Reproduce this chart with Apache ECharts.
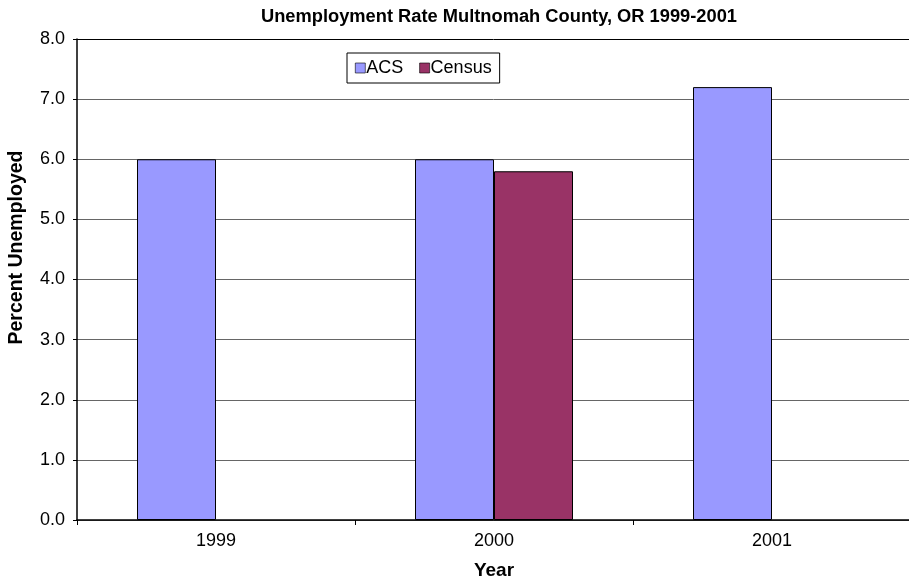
<!DOCTYPE html>
<html><head><meta charset="utf-8">
<script src="https://cdn.jsdelivr.net/npm/echarts@6/dist/echarts.min.js"></script>
<style>html,body{margin:0;padding:0;background:#fff}#c{width:909px;height:578px}</style>
</head><body><div id="c"></div>
<script>
const categories = ['1999', '2000', '2001'];
const acs = [6.0, 6.0, 7.2];
const census = [null, 5.8, null];
const yTicks = ['0.0','1.0','2.0','3.0','4.0','5.0','6.0','7.0','8.0'];

const chart = echarts.init(document.getElementById('c'));
const F = 'Liberation Sans, Arial, sans-serif';
chart.setOption({
  animation: false,
  textStyle: { fontFamily: F },
  title: { text: 'Unemployment Rate Multnomah County, OR 1999-2001', left: 494, top: 3, textAlign: 'center',
    textStyle: { fontFamily: F, fontSize: 18.3, fontWeight: 'bold', color: '#000' } },
  legend: { left: 347, top: 53, width: 155, height: 31, padding: [6, 8], itemGap: 16,
    borderColor: '#000', borderWidth: 1, itemWidth: 10, itemHeight: 10, icon: 'rect',
    textStyle: { fontFamily: F, fontSize: 18, color: '#000', padding: [0,0,0,-4] },
    itemStyle: { borderColor: '#000', borderWidth: 0.6 },
    data: ['ACS', 'Census'] },
  grid: { left: 77, right: -2, top: 39, bottom: 58, containLabel: false, outerBoundsMode: 'none' },
  xAxis: { type: 'category', data: categories, name: 'Year', nameLocation: 'middle', nameGap: 41,
    nameTextStyle: { fontFamily: F, fontSize: 19, fontWeight: 'bold', color: '#000' },
    axisLine: { lineStyle: { color: '#000', width: 1.5 } },
    axisTick: { show: true, alignWithLabel: false, length: 5, lineStyle: { color: '#000' } },
    axisLabel: { fontFamily: F, fontSize: 18, color: '#000', margin: 12 } },
  yAxis: { type: 'value', min: 0, max: 8, interval: 1, name: 'Percent Unemployed', nameLocation: 'middle', nameGap: 50,
    nameTextStyle: { fontFamily: F, fontSize: 19.5, fontWeight: 'bold', color: '#000', padding: [0, 0, 0, 64] },
    axisLine: { show: true, lineStyle: { color: '#000', width: 1.5 } },
    axisTick: { show: true, length: 4, lineStyle: { color: '#000' } },
    axisLabel: { fontFamily: F, fontSize: 18, color: '#000', margin: 12, formatter: (v) => yTicks[Math.round(v)] },
    splitLine: { show: true, lineStyle: { color: ['#666','#666','#666','#666','#666','#666','#666','#666','#000'], width: 1 } } },
  series: [
    { name: 'ACS', type: 'bar', data: acs, barWidth: 79, barGap: '0%',
      itemStyle: { color: '#9999FF', borderColor: '#000', borderWidth: 1 } },
    { name: 'Census', type: 'bar', data: census, barWidth: 79, barGap: '0%',
      itemStyle: { color: '#993366', borderColor: '#000', borderWidth: 1 } }
  ]
});
</script></body></html>
